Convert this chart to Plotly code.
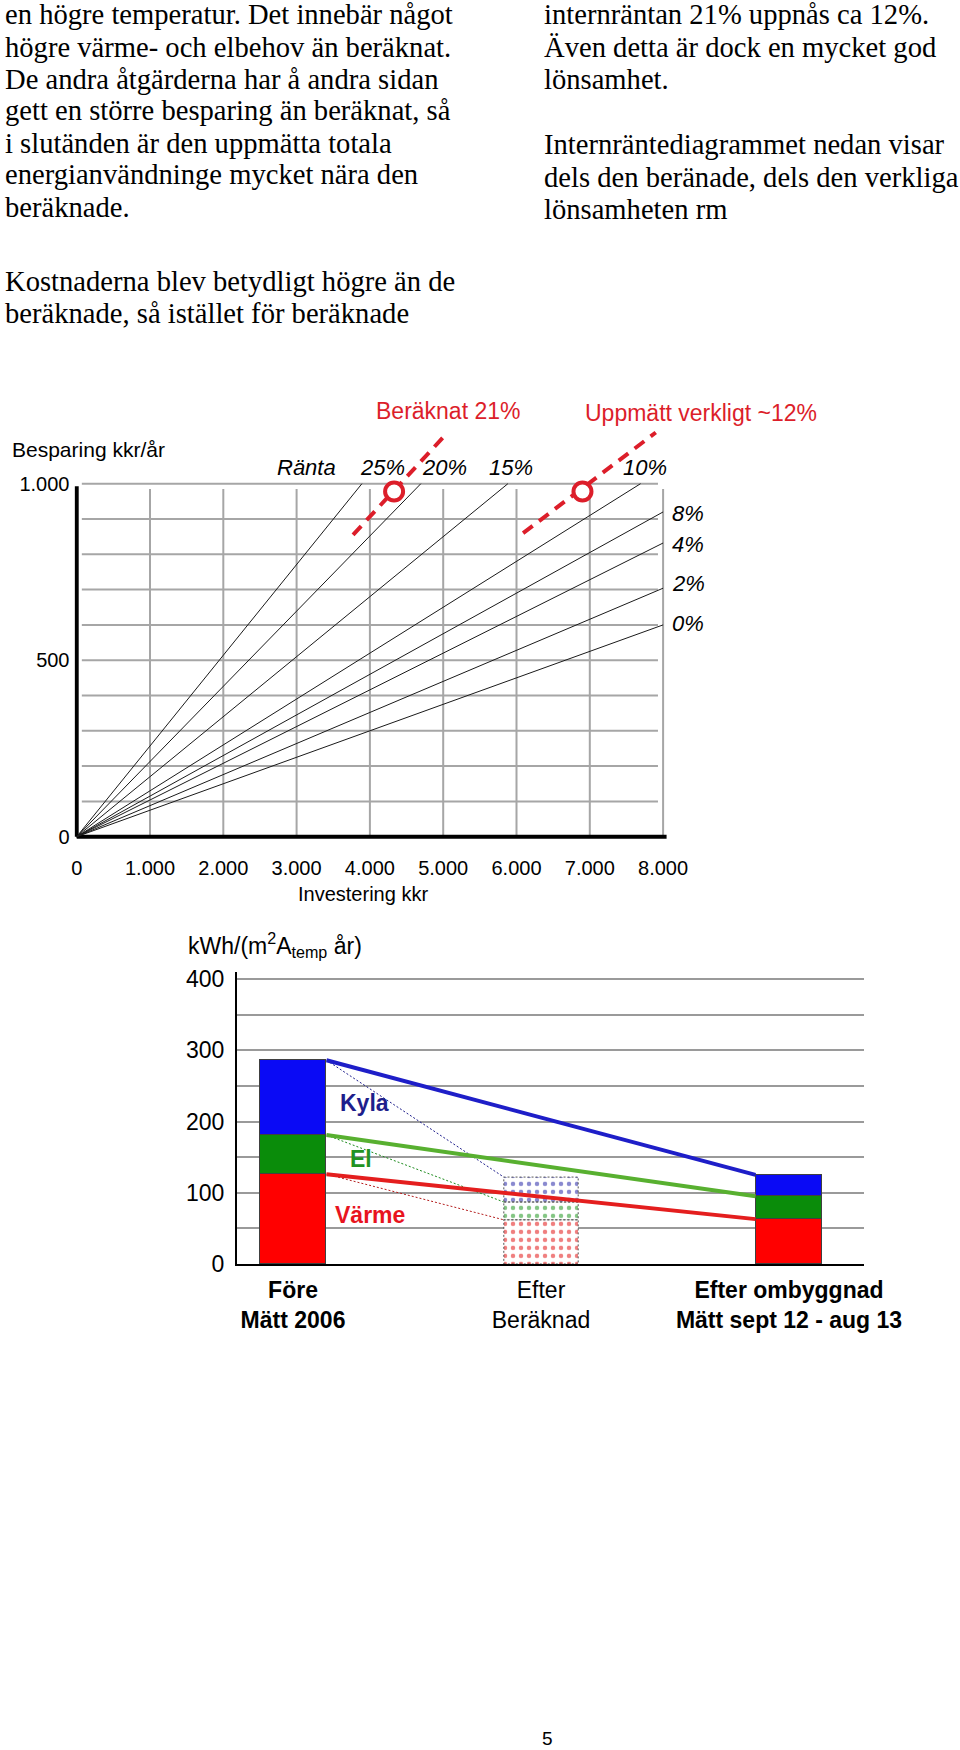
import plotly.graph_objects as go

W, H = 960, 1750
SERIF = "Liberation Serif, Times New Roman, serif"
SANS = "Liberation Sans, Arial, Helvetica, sans-serif"

# ---------------- brödtext ----------------
text_vanster = [
    "en högre temperatur. Det innebär något",
    "högre värme- och elbehov än beräknat.",
    "De andra åtgärderna har å andra sidan",
    "gett en större besparing än beräknat, så",
    "i slutänden är den uppmätta totala",
    "energianvändninge mycket nära den",
    "beräknade.",
]
text_hoger = [
    "internräntan 21% uppnås ca 12%.",
    "Även detta är dock en mycket god",
    "lönsamhet.",
    "",
    "Internräntediagrammet nedan visar",
    "dels den beränade, dels den verkliga",
    "lönsamheten rm",
]
text_mitt = [
    "Kostnaderna blev betydligt högre än de",
    "beräknade, så istället för beräknade",
]
sidnummer = "5"

# ---------------- diagram 1: internränta ----------------
rantor = ["25%", "20%", "15%", "10%", "8%", "4%", "2%", "0%"]
besparing_per_1000kkr = [257, 213, 170, 130, 115, 104, 88, 75]   # kkr/år per 1000 kkr investering
investering_ticks = [0, 1000, 2000, 3000, 4000, 5000, 6000, 7000, 8000]
investering_ticktext = ["0", "1.000", "2.000", "3.000", "4.000", "5.000", "6.000", "7.000", "8.000"]
besparing_ticks = [0, 500, 1000]
besparing_ticktext = ["0", "500", "1.000"]
punkt_namn = ["Beräknat 21%", "Uppmätt verkligt ~12%"]
punkt_investering = [4330, 6900]
punkt_besparing = [978, 978]
markering_investering = [[3770, 5060], [6090, 7900]]
markering_besparing = [[855, 1145], [860, 1145]]

# ---------------- diagram 2: energi ----------------
staplar = ["<b>Före</b><br><b>Mätt 2006</b>",
           "Efter<br>Beräknad",
           "<b>Efter ombyggnad</b><br><b>Mätt sept 12 - aug 13</b>"]
varme = [126, 62, 63]
el = [55, 25, 32]
kyla = [105, 35, 30]
energi_ticks = [0, 100, 200, 300, 400]
energi_ticktext = ["0", "100", "200", "300", "400"]

# ---------------- geometri (pixlar) ----------------
X1_0, X1_K = 76.7, 0.0733      # px för investering 0, px per kkr
Y1_0, Y1_K = 836.7, 0.353      # px för besparing 0, px per kkr/år
X1_RANGE = [-30, 8050]
Y1_RANGE = [-10, 1250]
X2_0, X2_K = 293.0, 248.0
X2_RANGE = [-0.2258, 2.302]
Y2_0, Y2_K = 1264.0, 0.7125
Y2_RANGE = [0, 410]


def xdom(p0, k, rng):
    return [(p0 + rng[0] * k) / W, (p0 + rng[1] * k) / W]


def ydom(p0, k, rng):
    return [1 - (p0 - rng[0] * k) / H, 1 - (p0 - rng[1] * k) / H]


def ann(text, x, y, size, family=SANS, color="black", xanchor="left", yanchor="middle"):
    return dict(text=text, x=x / W, y=1 - y / H, xref="paper", yref="paper",
                showarrow=False, xanchor=xanchor, yanchor=yanchor,
                font=dict(size=size, family=family, color=color))


fig = go.Figure()

# ---------- diagram 1 traces ----------
for namn, s in zip(rantor, besparing_per_1000kkr):
    x_end = min(investering_ticks[-1], besparing_ticks[-1] * 1000 / s)
    fig.add_trace(go.Scatter(x=[0, x_end], y=[0, s * x_end / 1000], mode="lines",
                             name=namn, line=dict(color="#1a1a1a", width=1),
                             xaxis="x", yaxis="y", hoverinfo="skip"))

RED = "#DC1E2A"
for xs, ys, namn in zip(markering_investering, markering_besparing, punkt_namn):
    fig.add_trace(go.Scatter(x=xs, y=ys, mode="lines", name=namn,
                             line=dict(color=RED, width=4, dash="12px,8px"),
                             xaxis="x", yaxis="y", hoverinfo="skip"))
fig.add_trace(go.Scatter(x=punkt_investering, y=punkt_besparing, mode="markers",
                         name="punkter", cliponaxis=False,
                         marker=dict(symbol="circle", size=18, color="white",
                                     line=dict(color=RED, width=4)),
                         xaxis="x", yaxis="y"))

# ---------- diagram 2 traces ----------
n = len(staplar)
x_pos = list(range(n))
bredd = [0.27, 0.30, 0.27]
berakning = [False, True, False]
matt_idx = [k for k in x_pos if not berakning[k]]
ber_idx = [k for k in x_pos if berakning[k]]

serier = [("Värme", varme, "#FF0000", "#E00000"),
          ("El", el, "#0A8C0A", "#0A8C0A"),
          ("Kyla", kyla, "#0A0AF5", "#1414A0")]
for namn, vals, farg, prick in serier:
    fig.add_trace(go.Bar(
        x=[x_pos[k] for k in matt_idx], y=[vals[k] for k in matt_idx],
        width=[bredd[k] for k in matt_idx], name=namn, xaxis="x2", yaxis="y2",
        marker=dict(color=farg, line=dict(color="#404040", width=1))))
for namn, vals, farg, prick in serier:
    fig.add_trace(go.Bar(
        x=[x_pos[k] for k in ber_idx], y=[vals[k] for k in ber_idx],
        width=[bredd[k] for k in ber_idx], name=namn + " beräknad", xaxis="x2", yaxis="y2",
        marker=dict(color="white", line=dict(color="rgba(0,0,0,0)", width=0),
                    pattern=dict(shape=".", fgcolor=prick, bgcolor="white",
                                 size=8, solidity=0.25, fillmode="overlay"))))

topp_varme = list(varme)
topp_el = [a + b for a, b in zip(varme, el)]
topp_kyla = [a + b + c for a, b, c in zip(varme, el, kyla)]

# prickad kontur runt den beräknade stapeln
for i in ber_idx:
    botten = 0
    for vals in (varme, el, kyla):
        x0, x1 = x_pos[i] - bredd[i] / 2, x_pos[i] + bredd[i] / 2
        y0, y1 = botten, botten + vals[i]
        fig.add_trace(go.Scatter(x=[x0, x1, x1, x0, x0], y=[y0, y0, y1, y1, y0], mode="lines",
                                 line=dict(color="#555555", width=1, dash="2px,2px"),
                                 xaxis="x2", yaxis="y2", hoverinfo="skip"))
        botten = y1

linjer = [("Kyla", topp_kyla, "#1E1EC8", "#1E1E8C"),
          ("El", topp_el, "#58B030", "#1E8C1E"),
          ("Värme", topp_varme, "#E41E1E", "#B41E1E")]
xa = x_pos[0] + bredd[0] / 2
for namn, topp, farg, pfarg in linjer:
    fig.add_trace(go.Scatter(x=[xa, x_pos[1] - bredd[1] / 2], y=[topp[0], topp[1]], mode="lines",
                             line=dict(color=pfarg, width=1, dash="2px,2px"),
                             xaxis="x2", yaxis="y2", hoverinfo="skip"))
for namn, topp, farg, pfarg in linjer:
    fig.add_trace(go.Scatter(x=[xa, x_pos[2] - bredd[2] / 2], y=[topp[0], topp[2]], mode="lines",
                             name=namn, line=dict(color=farg, width=4),
                             xaxis="x2", yaxis="y2"))

# ---------- shapes diagram 1 ----------
shapes = []
GRID = "#A6A6A6"
for v in range(100, besparing_ticks[-1] + 1, 100):
    shapes.append(dict(type="line", xref="x", yref="y", x0=70, x1=7930, y0=v, y1=v,
                       line=dict(color=GRID, width=2), layer="below"))
for v in investering_ticks[1:]:
    shapes.append(dict(type="line", xref="x", yref="y", x0=v, x1=v, y0=0, y1=985,
                       line=dict(color=GRID, width=2), layer="below"))
shapes.append(dict(type="line", xref="x", yref="y", x0=0, x1=0, y0=0, y1=993,
                   line=dict(color="black", width=4), layer="below"))
shapes.append(dict(type="line", xref="x", yref="y", x0=0, x1=8050, y0=0, y1=0,
                   line=dict(color="black", width=4), layer="below"))

# ---------- annotations ----------
anns = []
TS = 28.6
for k, t in enumerate(text_vanster):
    anns.append(ann(t, 3, 15 + 32.0 * k, TS, SERIF))
for k, t in enumerate(text_hoger):
    if t:
        anns.append(ann(t, 542, 15 + 32.4 * k, TS, SERIF))
for k, t in enumerate(text_mitt):
    anns.append(ann(t, 3, 281 + 32.5 * k, TS, SERIF))

anns.append(ann("Besparing kkr/år", 10, 449, 21))
anns.append(ann("Investering kkr", 363, 894, 20, xanchor="center"))
anns.append(ann("<i>Ränta</i>", 306, 467, 22, xanchor="center"))
for t, xc in zip(rantor[:4], [382, 444, 511, 645]):
    anns.append(ann("<i>" + t + "</i>", xc, 467, 22, xanchor="center"))
for t, yc in zip(rantor[4:], [513, 545, 583, 623]):
    anns.append(ann("<i>" + t + "</i>", 670, yc, 22))
anns.append(ann(punkt_namn[0], 374, 411, 23, color=RED))
anns.append(ann(punkt_namn[1], 583, 413, 23, color=RED))

anns.append(ann("kWh/(m<sup>2</sup>A<sub>temp</sub> år)", 186, 945, 23))
anns.append(ann("<b>Kyla</b>", 364, 1103, 23, color="#1E1E8C", xanchor="center"))
anns.append(ann("<b>El</b>", 361, 1159, 23, color="#229322", xanchor="center"))
anns.append(ann("<b>Värme</b>", 370, 1215, 23, color="#E8141E", xanchor="center"))
anns.append(ann(sidnummer, 547, 1738, 19, xanchor="center"))

fig.update_layout(
    width=W, height=H, margin=dict(l=0, r=0, t=0, b=0, autoexpand=False),
    paper_bgcolor="white", plot_bgcolor="rgba(0,0,0,0)",
    showlegend=False, barmode="stack", bargap=0,
    font=dict(family=SANS, color="black"),
    shapes=shapes, annotations=anns,
    xaxis=dict(domain=xdom(X1_0, X1_K, X1_RANGE), range=X1_RANGE, anchor="y",
               tickvals=investering_ticks, ticktext=investering_ticktext,
               showgrid=False, zeroline=False, showline=False, ticks="",
               tickfont=dict(size=20, family=SANS, color="black"), ticklabelstandoff=14,
               automargin=False),
    yaxis=dict(domain=ydom(Y1_0, Y1_K, Y1_RANGE), range=Y1_RANGE, anchor="x",
               tickvals=besparing_ticks, ticktext=besparing_ticktext,
               showgrid=False, zeroline=False, showline=False, ticks="",
               tickfont=dict(size=20, family=SANS, color="black"), ticklabelstandoff=4,
               automargin=False),
    xaxis2=dict(domain=xdom(X2_0, X2_K, X2_RANGE), range=X2_RANGE, anchor="y2",
                tickvals=x_pos, ticktext=staplar,
                showgrid=False, zeroline=False, showline=True, linecolor="black", linewidth=2,
                ticks="", tickfont=dict(size=23, family=SANS, color="black"), ticklabelstandoff=4,
                automargin=False),
    yaxis2=dict(domain=ydom(Y2_0, Y2_K, Y2_RANGE), range=Y2_RANGE, anchor="x2",
                tickvals=energi_ticks, ticktext=energi_ticktext,
                showgrid=True, gridcolor="#9A9A9A", gridwidth=2, zeroline=False,
                minor=dict(dtick=50, tick0=0, showgrid=True, gridcolor="#9A9A9A", gridwidth=2, ticks=""),
                showline=True, linecolor="black", linewidth=2,
                ticks="", tickfont=dict(size=23, family=SANS, color="black"), ticklabelstandoff=6,
                automargin=False),
)

fig.write_html("out.html")
